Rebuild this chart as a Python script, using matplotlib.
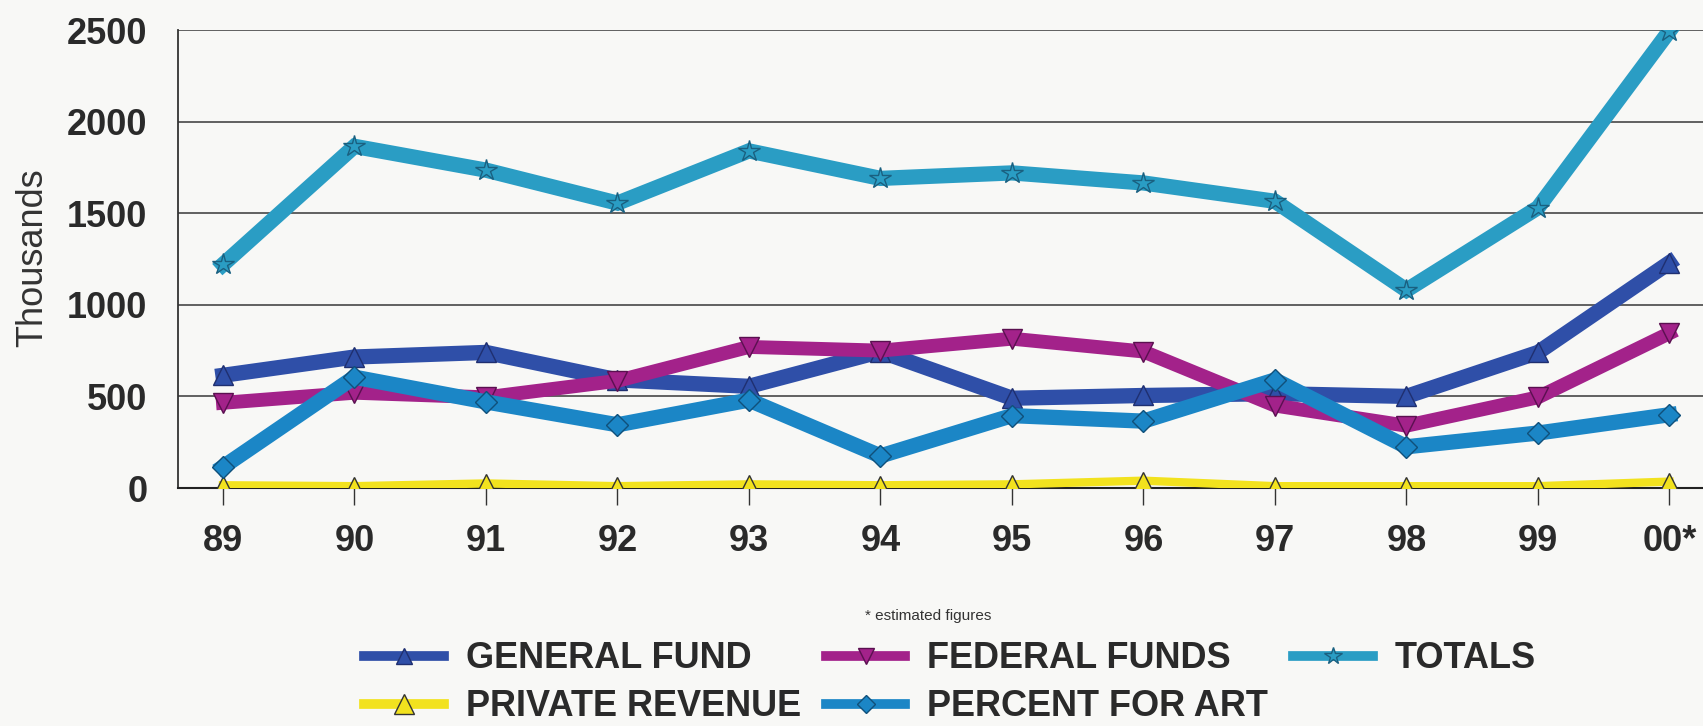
import matplotlib
matplotlib.use("Agg")
import matplotlib.pyplot as plt
from matplotlib.lines import Line2D
from matplotlib import font_manager

years = ['89', '90', '91', '92', '93', '94', '95', '96', '97', '98', '99', '00*']
general_fund = [615, 715, 740, 590, 555, 745, 490, 505, 515, 500, 740, 1230]
federal_funds = [465, 520, 495, 585, 770, 750, 815, 745, 450, 340, 495, 845]
totals = [1220, 1865, 1735, 1555, 1840, 1690, 1720, 1665, 1565, 1080, 1530, 2495]
private_revenue = [15, 10, 25, 10, 20, 15, 20, 40, 10, 10, 10, 35]
percent_for_art = [115, 605, 470, 345, 480, 175, 395, 365, 590, 225, 300, 400]
y_ticks = [0, 500, 1000, 1500, 2000, 2500]

plt.rcParams['font.family'] = ['Liberation Sans', 'DejaVu Sans']

names = {f.name for f in font_manager.fontManager.ttflist}
if 'Liberation Sans Narrow' in names:
    leg_family, leg_size = ['Liberation Sans Narrow', 'DejaVu Sans'], 31.5
else:
    leg_family, leg_size = ['Liberation Sans', 'DejaVu Sans'], 26

bg = '#f8f8f6'
fig = plt.figure(figsize=(17.03, 7.26), dpi=100, facecolor=bg)
ax = fig.add_axes([178/1703, 1-488/726, 1-178/1703, (488-30)/726])
ax.set_facecolor(bg)

x = list(range(len(years)))

styles = {
    'GENERAL FUND': dict(color='#2f4fa8', marker='^', mfc='#2f4fa8', mec='#1f2f70'),
    'FEDERAL FUNDS': dict(color='#a3228a', marker='v', mfc='#a3228a', mec='#5a1050'),
    'TOTALS': dict(color='#2a9dc4', marker='*', mfc='#2a9dc4', mec='#1a6080'),
    'PRIVATE REVENUE': dict(color='#f2e21e', marker='^', mfc='#f2e21e', mec='#333333'),
    'PERCENT FOR ART': dict(color='#1b86c6', marker='D', mfc='#1b86c6', mec='#10507a'),
}

ax.plot(x, general_fund, lw=11, ms=14, mew=1, zorder=3,
        solid_joinstyle='miter', **styles['GENERAL FUND'])
ax.plot(x, federal_funds, lw=10, ms=14, mew=1, zorder=4,
        solid_joinstyle='miter', **styles['FEDERAL FUNDS'])
ax.plot(x, totals, lw=11, ms=16, mew=1, zorder=5,
        solid_joinstyle='miter', **styles['TOTALS'])
ax.plot(x, private_revenue, lw=6, ms=13, mew=1, zorder=6, **styles['PRIVATE REVENUE'])
ax.plot(x, percent_for_art, lw=11, ms=11, mew=1, zorder=7,
        solid_joinstyle='miter', **styles['PERCENT FOR ART'])

ax.set_xlim(-0.342, 11.255)
ax.set_ylim(0, 2500)
ax.set_yticks(y_ticks)
ax.set_xticks(x)
ax.set_xticklabels(years)
ax.yaxis.grid(True, color='#555555', lw=1.3, zorder=1)
ax.set_axisbelow(True)
for s in ['right', 'top']:
    ax.spines[s].set_visible(False)
ax.spines['left'].set_color('#333333')
ax.spines['bottom'].set_color('#222222')
ax.spines['left'].set_linewidth(1.3)
ax.spines['bottom'].set_linewidth(1.5)

ax.tick_params(axis='y', length=0, pad=22, labelsize=26, labelcolor='#2a2a2a')
ax.tick_params(axis='x', length=12, width=1, direction='out', pad=14,
               labelsize=26, labelcolor='#2a2a2a', color='#333333')
for lab in ax.get_xticklabels() + ax.get_yticklabels():
    lab.set_fontweight('bold')

fig.text(33/1703, 1-258/726, 'Thousands', rotation=90, ha='center', va='center',
         fontsize=26, color='#333333')

fig.text(928/1703, 1-616/726, '* estimated figures', ha='center', va='center',
         fontsize=11, color='#333333')

order = ['GENERAL FUND', 'PRIVATE REVENUE', 'FEDERAL FUNDS', 'PERCENT FOR ART', 'TOTALS']
msz = {'GENERAL FUND': 12, 'PRIVATE REVENUE': 14, 'FEDERAL FUNDS': 12,
       'PERCENT FOR ART': 9, 'TOTALS': 13}
handles = [Line2D([], [], lw=7, ms=msz[n], mew=1, **styles[n]) for n in order]
leg = fig.legend(handles, order,
                 ncol=3, loc='center', bbox_to_anchor=(950/1703, 1-683/726),
                 frameon=False, handlelength=2.2, handletextpad=0.6,
                 columnspacing=0.7, labelspacing=0.36, borderpad=0.1,
                 prop={'family': leg_family, 'weight': 'bold', 'size': leg_size})
for t in leg.get_texts():
    t.set_color('#2a2a2a')

fig.savefig('out.png', dpi=100, facecolor=bg)
